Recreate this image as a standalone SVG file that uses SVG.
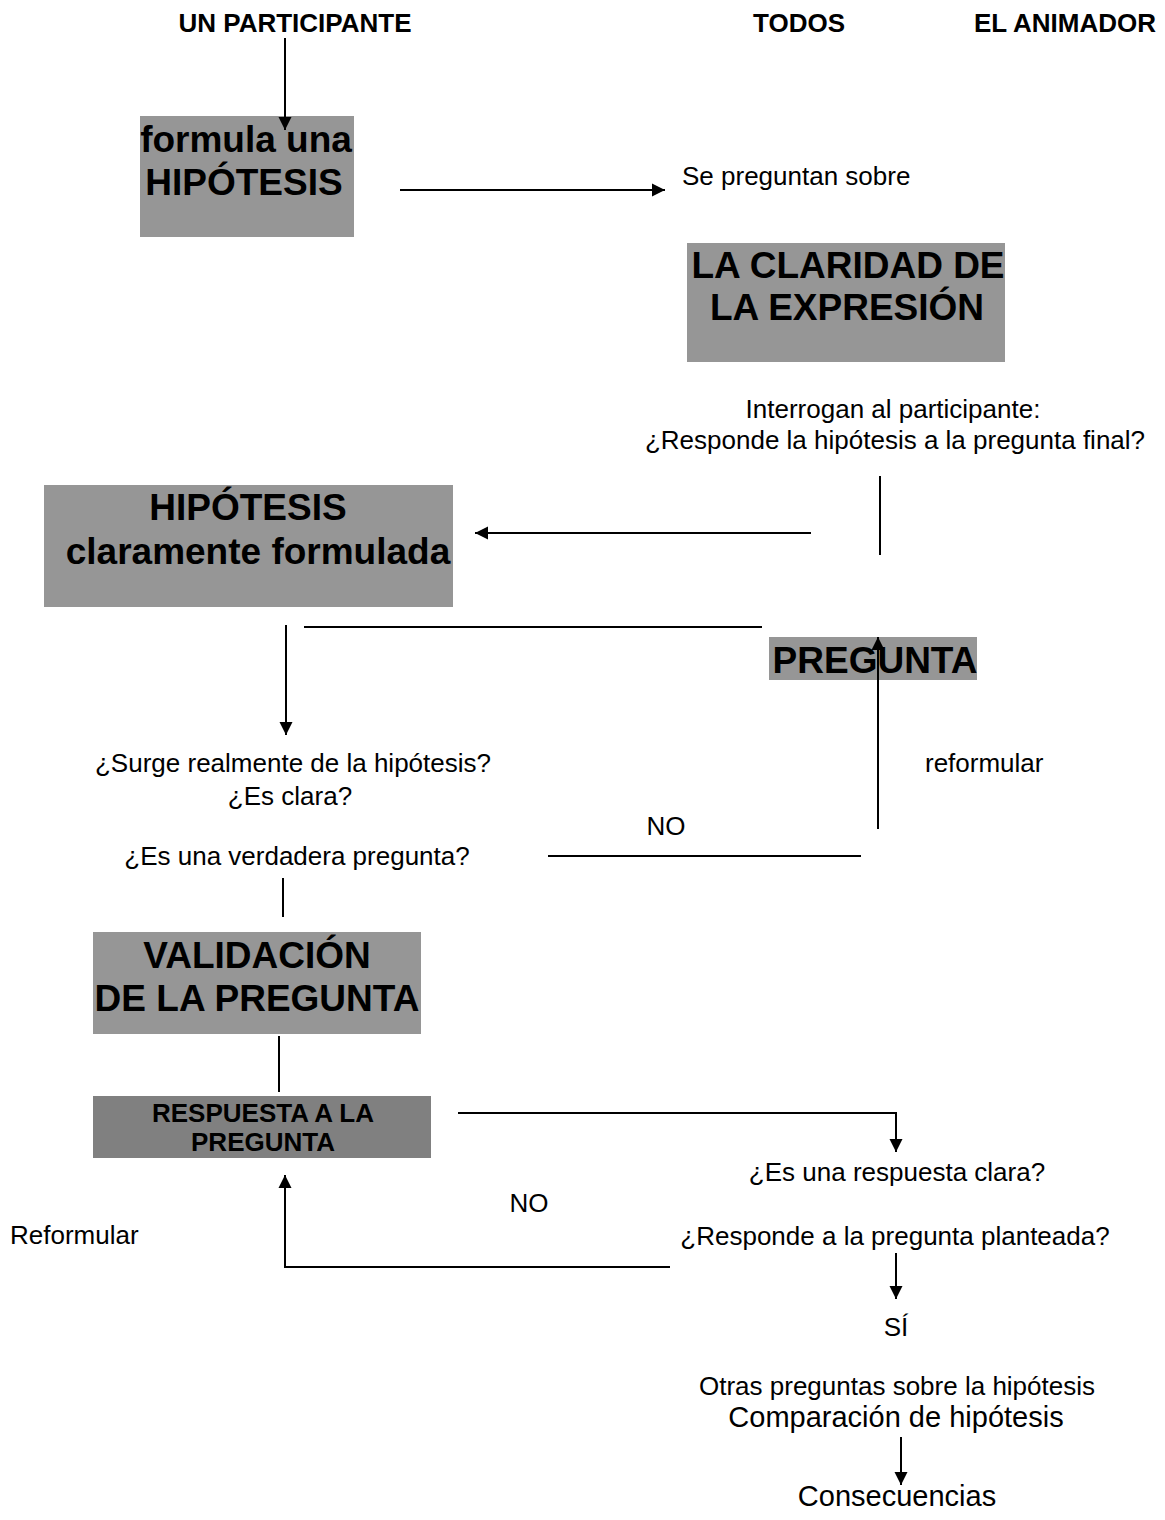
<svg xmlns="http://www.w3.org/2000/svg" width="1165" height="1520" viewBox="0 0 1165 1520">
<style>
  text { font-family: "Liberation Sans", Arial, sans-serif; fill: #000; }
  .h { font-size: 26px; font-weight: bold; }
  .b { font-size: 37px; font-weight: bold; }
  .s { font-size: 26px; font-weight: bold; }
  .t { font-size: 26px; }
  .t2 { font-size: 29px; }
  .box { fill: #969696; }
  .box2 { fill: #808080; }
  .ln { stroke: #000; stroke-width: 2; fill: none; }
</style>
<defs>
  <marker id="ah" markerUnits="userSpaceOnUse" markerWidth="14" markerHeight="14" viewBox="0 0 14 14" refX="13" refY="7" orient="auto">
    <path d="M0,0.5 L13,7 L0,13.5 z" fill="#000"/>
  </marker>
</defs>
<rect width="1165" height="1520" fill="#fff"/>

<g id="headers">
  <text class="h" x="295" y="32" text-anchor="middle">UN PARTICIPANTE</text>
  <text class="h" x="799" y="32" text-anchor="middle">TODOS</text>
  <text class="h" x="1065" y="32" text-anchor="middle">EL ANIMADOR</text>
</g>

<g id="n-formula">
  <rect class="box" x="140" y="116" width="214" height="121"/>
  <text class="b" x="246" y="152" text-anchor="middle">formula una</text>
  <text class="b" x="244" y="195" text-anchor="middle">HIPÓTESIS</text>
</g>

<g id="n-sepreguntan">
  <text class="t" x="682" y="185">Se preguntan sobre</text>
</g>

<g id="n-claridad">
  <rect class="box" x="687" y="243" width="318" height="119"/>
  <text class="b" x="848" y="278" text-anchor="middle">LA CLARIDAD DE</text>
  <text class="b" x="847" y="320" text-anchor="middle">LA EXPRESIÓN</text>
</g>

<g id="n-interrogan">
  <text class="t" x="893" y="418" text-anchor="middle">Interrogan al participante:</text>
  <text class="t" x="895" y="449" text-anchor="middle">¿Responde la hipótesis a la pregunta final?</text>
</g>

<g id="n-hipotesis">
  <rect class="box" x="44" y="485" width="409" height="122"/>
  <text class="b" x="248" y="520" text-anchor="middle">HIPÓTESIS</text>
  <text class="b" x="258" y="564" text-anchor="middle">claramente formulada</text>
</g>

<g id="n-pregunta">
  <rect class="box" x="769" y="637" width="208" height="43"/>
  <text class="b" x="875" y="673" text-anchor="middle">PREGUNTA</text>
</g>

<g id="n-reformular">
  <text class="t" x="925" y="772">reformular</text>
</g>

<g id="n-surge">
  <text class="t" x="293" y="772" text-anchor="middle">¿Surge realmente de la hipótesis?</text>
  <text class="t" x="290" y="805" text-anchor="middle">¿Es clara?</text>
  <text class="t" x="297" y="865" text-anchor="middle">¿Es una verdadera pregunta?</text>
</g>

<g id="n-no1">
  <text class="t" x="666" y="835" text-anchor="middle">NO</text>
</g>

<g id="n-validacion">
  <rect class="box" x="93" y="932" width="328" height="102"/>
  <text class="b" x="257" y="968" text-anchor="middle">VALIDACIÓN</text>
  <text class="b" x="257" y="1011" text-anchor="middle">DE LA PREGUNTA</text>
</g>

<g id="n-respuesta">
  <rect class="box2" x="93" y="1096" width="338" height="62"/>
  <text class="s" x="263" y="1122" text-anchor="middle">RESPUESTA A LA</text>
  <text class="s" x="263" y="1151" text-anchor="middle">PREGUNTA</text>
</g>

<g id="n-clara">
  <text class="t" x="897" y="1181" text-anchor="middle">¿Es una respuesta clara?</text>
</g>

<g id="n-no2">
  <text class="t" x="529" y="1212" text-anchor="middle">NO</text>
</g>

<g id="n-Reformular">
  <text class="t" x="10" y="1244">Reformular</text>
</g>

<g id="n-responde">
  <text class="t" x="895" y="1245" text-anchor="middle">¿Responde a la pregunta planteada?</text>
</g>

<g id="n-si">
  <text class="t" x="896" y="1336" text-anchor="middle">SÍ</text>
</g>

<g id="n-otras">
  <text class="t" x="897" y="1395" text-anchor="middle">Otras preguntas sobre la hipótesis</text>
  <text class="t2" x="896" y="1427" text-anchor="middle">Comparación de hipótesis</text>
</g>

<g id="n-consecuencias">
  <text class="t2" x="897" y="1506" text-anchor="middle">Consecuencias</text>
</g>

<g id="connectors">
  <line class="ln" x1="285" y1="38" x2="285" y2="130" marker-end="url(#ah)"/>
  <line class="ln" x1="400" y1="190" x2="665" y2="190" marker-end="url(#ah)"/>
  <line class="ln" x1="880" y1="476" x2="880" y2="555"/>
  <line class="ln" x1="811" y1="533" x2="475" y2="533" marker-end="url(#ah)"/>
  <line class="ln" x1="286" y1="625" x2="286" y2="735" marker-end="url(#ah)"/>
  <line class="ln" x1="304" y1="627" x2="762" y2="627"/>
  <line class="ln" x1="878" y1="829" x2="878" y2="637" marker-end="url(#ah)"/>
  <line class="ln" x1="548" y1="856" x2="861" y2="856"/>
  <line class="ln" x1="283" y1="878" x2="283" y2="917"/>
  <line class="ln" x1="279" y1="1036" x2="279" y2="1092"/>
  <polyline class="ln" points="458,1113 896,1113 896,1152" marker-end="url(#ah)"/>
  <polyline class="ln" points="670,1267 285,1267 285,1175" marker-end="url(#ah)"/>
  <line class="ln" x1="896" y1="1253" x2="896" y2="1299" marker-end="url(#ah)"/>
  <line class="ln" x1="901" y1="1437" x2="901" y2="1485" marker-end="url(#ah)"/>
</g>
</svg>
